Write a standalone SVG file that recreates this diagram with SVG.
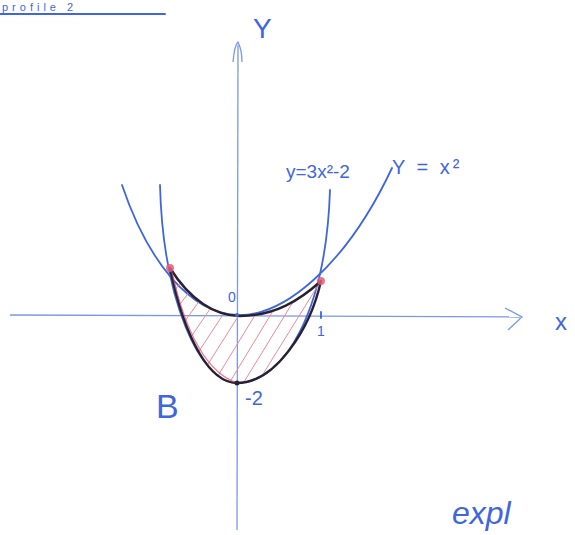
<svg xmlns="http://www.w3.org/2000/svg" width="575" height="535" viewBox="0 0 575 535">
<style>
.ax{stroke:#7b98e6;stroke-width:1.3;fill:none}
.blue{stroke:#3f66dc;stroke-width:1.8;fill:none;stroke-linecap:round}
.blk{stroke:#2a2030;stroke-width:2.4;fill:none;stroke-linecap:round}
.hatch{stroke:#e88a9a;stroke-width:1;fill:none}
.t{font-family:"Liberation Sans",Arial,sans-serif;fill:#3f66dc}
</style>
<defs>
<clipPath id="reg"><path d="M170,268 C190,300 215,316 240,316 C275,316 300,300 321,281 C310,330 275,383 237,383 C210,383 185,340 170,268 Z"/></clipPath>
</defs>
<rect width="575" height="535" fill="#fff"/>
<g id="title">
<text class="t" x="2" y="11" font-size="11" letter-spacing="4">profile 2</text>
<path d="M0,14 L165,14" class="blue"/>
</g>
<g id="connectors">
<path class="ax" d="M10,315 L520,317"/>
<path class="ax" d="M505,308 L522,317 L508,330"/>
<path class="ax" d="M237,530 L238,45"/>
<path class="ax" d="M233,62 C234,50 236,44 238,42 C240,46 242,54 242,62"/>
<path class="blue" d="M122,185 C148,262 190,313 237,315 C282,317 345,268 392,168"/>
<path class="blue" d="M160,185 C163,300 200,383 237,383 C285,383 326,310 330,190"/>
<g clip-path="url(#reg)" class="hatch">
<path d="M160,290 L185,258 M163,305 L200,258 M168,320 L215,258 M175,335 L230,258 M182,350 L245,258 M190,365 L260,258 M198,380 L275,258 M208,392 L290,258 M222,395 L305,258 M236,395 L320,258 M250,395 L335,258 M265,395 L350,258 M280,395 L365,258"/>
</g>
<path class="blk" d="M170,268 C190,300 215,316 240,316 C275,316 300,300 321,281"/>
<path class="blk" d="M170,268 C185,340 210,383 237,383 C275,383 310,330 321,281"/>
<path d="M172,272 C185,330 205,372 237,383" stroke="#d9506a" stroke-width="1.2" fill="none" opacity="0.7"/>
<circle cx="170" cy="268" r="4" fill="#e2607a" opacity="0.85"/>
<circle cx="321" cy="281" r="4" fill="#e2607a" opacity="0.85"/>
<circle cx="237" cy="383" r="2.5" fill="#2a2030"/>
<circle cx="237" cy="315" r="2" fill="#3f66dc"/>
<path d="M321,312 L321,318" class="blue" stroke-width="2.5"/>
</g>
<g id="labels">
<text class="t" x="253" y="38" font-size="28">Y</text>
<text class="t" x="555" y="330" font-size="24">x</text>
<text class="t" x="228" y="302" font-size="14">0</text>
<text class="t" x="317" y="336" font-size="14">1</text>
<text class="t" x="245" y="405" font-size="20">-2</text>
<text class="t" x="156" y="418" font-size="34">B</text>
<text class="t" x="286" y="178" font-size="19">y=3x²-2</text>
<text class="t" x="392" y="174" font-size="20" letter-spacing="3">Y = x²</text>
<text class="t" x="452" y="524" font-size="32" font-style="italic">expl</text>
</g>
</svg>
